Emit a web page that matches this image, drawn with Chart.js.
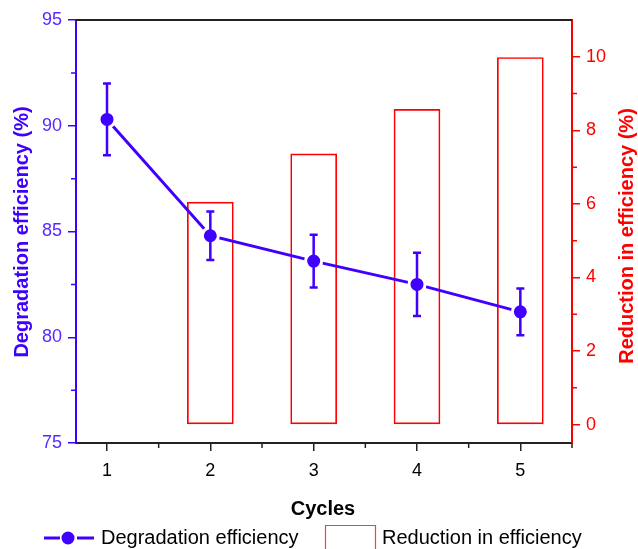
<!DOCTYPE html>
<html>
<head>
<meta charset="utf-8">
<script src="https://cdn.jsdelivr.net/npm/chart.js@4"></script>
<style>
  html, body { margin: 0; padding: 0; background: #fff; }
  #wrap { width: 638px; height: 549px; }
</style>
</head>
<body>
<div id="wrap"><canvas id="cycleChart" width="638" height="549"></canvas></div>
<script>
var cycles = [1, 2, 3, 4, 5];
var degradation = [90.3, 84.8, 83.6, 82.5, 81.2];
var degradationErr = [1.7, 1.15, 1.25, 1.5, 1.1];
var reduction = [null, 6.05, 7.36, 8.57, 9.98];
var leftTicks = [75, 80, 85, 90, 95];
var rightTicks = [0, 2, 4, 6, 8, 10];

var blue = 'rgb(64, 0, 255)';
var red = 'rgb(255, 0, 0)';
var fontName = '"Liberation Sans", Arial, sans-serif';

var lineData = cycles.map(function (c, i) { return { x: c, y: degradation[i] }; });
var barData = cycles.map(function (c, i) { return { x: c, y: reduction[i] }; });

// error bars, minor ticks, frame, rotated right title and legend
var extras = {
    id: 'extras',
    afterDatasetsDraw: function (chart) {
        var ctx = chart.ctx;
        var x = chart.scales.x, y = chart.scales.y;
        ctx.save();
        ctx.strokeStyle = blue;
        ctx.lineWidth = 2.5;
        cycles.forEach(function (c, i) {
            var px = x.getPixelForValue(c);
            var top = y.getPixelForValue(degradation[i] + degradationErr[i]);
            var bot = y.getPixelForValue(degradation[i] - degradationErr[i]);
            ctx.beginPath();
            ctx.moveTo(px, top); ctx.lineTo(px, bot);
            ctx.moveTo(px - 4, top); ctx.lineTo(px + 4, top);
            ctx.moveTo(px - 4, bot); ctx.lineTo(px + 4, bot);
            ctx.stroke();
        });
        ctx.restore();
    },
    afterDraw: function (chart) {
        var ctx = chart.ctx;
        var a = chart.chartArea;
        var x = chart.scales.x, y = chart.scales.y, y1 = chart.scales.y1;
        ctx.save();
        // top frame line
        ctx.strokeStyle = '#222';
        ctx.lineWidth = 2;
        ctx.beginPath();
        ctx.moveTo(a.left, a.top); ctx.lineTo(a.right, a.top);
        ctx.stroke();

        // minor ticks
        ctx.lineWidth = 1.5;
        ctx.strokeStyle = '#222';
        ctx.beginPath();
        [1.5, 2.5, 3.5, 4.5, 5.5].forEach(function (v) {
            var px = x.getPixelForValue(v);
            ctx.moveTo(px, a.bottom); ctx.lineTo(px, a.bottom + 5);
        });
        ctx.stroke();
        ctx.strokeStyle = blue;
        ctx.beginPath();
        [77.5, 82.5, 87.5, 92.5].forEach(function (v) {
            var py = y.getPixelForValue(v);
            ctx.moveTo(a.left, py); ctx.lineTo(a.left - 5, py);
        });
        ctx.stroke();
        ctx.strokeStyle = red;
        ctx.beginPath();
        [1, 3, 5, 7, 9].forEach(function (v) {
            var py = y1.getPixelForValue(v);
            ctx.moveTo(a.right, py); ctx.lineTo(a.right + 5, py);
        });
        ctx.stroke();

        // axis titles
        ctx.font = 'bold 20px ' + fontName;
        ctx.textAlign = 'center';
        ctx.textBaseline = 'middle';
        ctx.fillStyle = blue;
        ctx.save();
        ctx.translate(22, 232);
        ctx.rotate(-Math.PI / 2);
        ctx.fillText('Degradation efficiency (%)', 0, 0);
        ctx.restore();
        ctx.fillStyle = red;
        ctx.save();
        ctx.translate(627, 236);
        ctx.rotate(-Math.PI / 2);
        ctx.fillText('Reduction in efficiency (%)', 0, 0);
        ctx.restore();
        ctx.fillStyle = '#000';
        ctx.fillText('Cycles', 323, 509);

        // legend
        var ly = 538;
        ctx.strokeStyle = blue;
        ctx.lineWidth = 3;
        ctx.beginPath();
        ctx.moveTo(44, ly); ctx.lineTo(60, ly);
        ctx.moveTo(77, ly); ctx.lineTo(94, ly);
        ctx.stroke();
        ctx.fillStyle = blue;
        ctx.beginPath();
        ctx.arc(68, ly, 6.5, 0, Math.PI * 2);
        ctx.fill();
        ctx.strokeStyle = 'rgba(255, 60, 60, 1)';
        ctx.lineWidth = 1.2;
        ctx.beginPath();
        ctx.rect(325.5, 525.5, 50, 30);
        ctx.stroke();
        ctx.font = '20px ' + fontName;
        ctx.textAlign = 'left';
        ctx.fillStyle = '#000';
        ctx.fillText('Degradation efficiency', 101, ly);
        ctx.fillText('Reduction in efficiency', 382, ly);
        ctx.restore();
    }
};

var ctx = document.getElementById('cycleChart').getContext('2d');

var myChart = new Chart(ctx, {
    type: 'bar',
    data: {
        datasets: [{
            type: 'line',
            label: 'Degradation efficiency',
            data: lineData,
            yAxisID: 'y',
            order: 0,
            borderColor: blue,
            borderWidth: 3,
            backgroundColor: blue,
            pointRadius: 8,
            pointBorderColor: '#fff',
            pointBorderWidth: 3,
            pointBackgroundColor: blue,
            tension: 0
        }, {
            type: 'bar',
            label: 'Reduction in efficiency',
            data: barData,
            yAxisID: 'y1',
            order: 1,
            backgroundColor: 'rgba(0, 0, 0, 0)',
            borderColor: red,
            borderWidth: 1,
            borderSkipped: false,
            barThickness: 46,
            base: 0
        }]
    },
    options: {
        responsive: false,
        animation: false,
        layout: { padding: { top: 20, left: 0, right: 0, bottom: 0 } },
        plugins: {
            legend: { display: false },
            tooltip: { enabled: false }
        },
        scales: {
            x: {
                type: 'linear',
                min: 0.7,
                max: 5.5,
                offset: false,
                grid: { offset: false, drawOnChartArea: false, drawTicks: true, tickLength: 8, color: '#222', lineWidth: 1.5 },
                border: { color: '#222', width: 2 },
                ticks: {
                    stepSize: 1,
                    includeBounds: false,
                    color: '#000',
                    font: { family: fontName, size: 18 },
                    padding: 9,
                    maxRotation: 0
                },
                afterFit: function (s) { s.height = 106; }
            },
            y: {
                position: 'left',
                min: 75,
                max: 95,
                grid: { drawOnChartArea: false, tickLength: 8, color: blue, lineWidth: 1.5 },
                border: { color: blue, width: 2 },
                afterBuildTicks: function (s) { s.ticks = leftTicks.map(function (v) { return { value: v }; }); },
                ticks: {
                    color: 'rgb(90, 40, 255)',
                    font: { family: fontName, size: 18 },
                    padding: 6
                },
                afterFit: function (s) { s.width = 76; }
            },
            y1: {
                position: 'right',
                min: -0.5,
                max: 11,
                grid: { drawOnChartArea: false, tickLength: 8, color: red, lineWidth: 1.5 },
                border: { color: red, width: 2 },
                afterBuildTicks: function (s) { s.ticks = rightTicks.map(function (v) { return { value: v }; }); },
                ticks: {
                    color: red,
                    font: { family: fontName, size: 18 },
                    padding: 6
                },
                afterFit: function (s) { s.width = 66; }
            }
        }
    },
    plugins: [extras]
});
</script>
</body>
</html>
